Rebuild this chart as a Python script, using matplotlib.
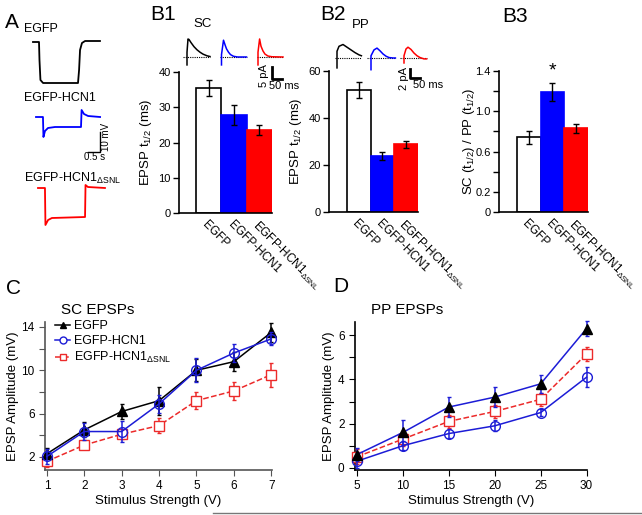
import matplotlib
matplotlib.use("Agg")
import matplotlib.pyplot as plt
import numpy as np
from matplotlib.lines import Line2D

plt.rcParams['font.family'] = ['Liberation Sans', 'DejaVu Sans']
plt.rcParams['mathtext.fontset'] = 'custom'
plt.rcParams['mathtext.rm'] = 'Liberation Sans'
plt.rcParams['mathtext.it'] = 'Liberation Sans:italic'
plt.rcParams['mathtext.bf'] = 'Liberation Sans:bold'

# ---------------- data ----------------
groups = ["EGFP", "EGFP-HCN1", "EGFP-HCN1$_{\\mathrm{ΔSNL}}$"]

sc_half = [35.5, 27.8, 23.5]
sc_half_err = [2.3, 2.7, 1.4]
pp_half = [51.9, 23.8, 28.9]
pp_half_err = [3.3, 1.8, 1.5]
ratio = [0.74, 1.19, 0.83]
ratio_err = [0.06, 0.09, 0.045]

sc_stim = [1, 2, 3, 4, 5, 6, 7]
sc_egfp = [2.3, 4.5, 6.2, 7.2, 10.0, 10.8, 13.5]
sc_egfp_err = [0.5, 0.7, 0.7, 1.3, 1.0, 0.9, 0.9]
sc_hcn1 = [2.05, 4.35, 4.35, 6.9, 10.0, 11.6, 12.9]
sc_hcn1_err = [0.7, 0.8, 1.0, 0.8, 1.1, 0.8, 0.6]
sc_dsnl = [1.6, 3.1, 4.1, 4.9, 7.2, 8.1, 9.6]
sc_dsnl_err = [0.5, 0.4, 0.4, 0.7, 0.8, 0.8, 1.1]

pp_stim = [5, 10, 15, 20, 25, 30]
pp_egfp = [0.6, 1.6, 2.75, 3.2, 3.8, 6.3]
pp_egfp_err = [0.3, 0.55, 0.45, 0.45, 0.4, 0.35]
pp_hcn1 = [0.3, 1.0, 1.55, 1.9, 2.5, 4.1]
pp_hcn1_err = [0.3, 0.2, 0.2, 0.25, 0.15, 0.45]
pp_dsnl = [0.5, 1.3, 2.1, 2.55, 3.1, 5.15]
pp_dsnl_err = [0.35, 0.3, 0.3, 0.3, 0.3, 0.3]

# panel A voltage traces (s, mV)
a_t_egfp = [0, 0.25, 0.27, 0.31, 0.42, 1.875, 1.92, 1.96, 2.04, 2.17, 2.79]
a_v_egfp = [0, 0, -9, -19, -20.5, -20.5, -14, -4, -0.5, 0.5, 0.5]
a_t_hcn1 = [0, 0.29, 0.31, 0.375, 0.5, 0.79, 1.875, 1.9, 2.0, 2.17, 2.67]
a_v_hcn1 = [0, 0, -10, -7, -5.5, -5, -5, 3.5, 1.5, 0.5, 0]
a_t_dsnl = [0, 0.29, 0.31, 0.42, 0.58, 1.96, 1.98, 2.08, 2.79]
a_v_dsnl = [0, 0, -18.5, -16, -15, -14.5, 1.5, 0.5, 0]

# B1 SC EPSC traces (ms, pA)
sc_t_egfp = [0, 0, 5, 10, 20, 35, 50, 65, 80, 100, 115]
sc_v_egfp = [-3.3, 2, 7.5, 7.3, 6.0, 4.3, 3.0, 2.0, 1.2, 0.5, 0.2]
sc_t_hcn1 = [0, 0, 10, 18, 25, 35, 45, 60, 80, 125]
sc_v_hcn1 = [-3.3, 1, 7.0, 5.0, 3.4, 2.0, 1.0, 0.3, 0.0, 0.0]
sc_t_dsnl = [0, 0, 8, 15, 25, 35, 50, 70, 125]
sc_v_dsnl = [-3.3, 2, 7.5, 4.5, 2.5, 1.2, 0.4, 0.1, 0.0]

# B2 PP EPSC traces (ms, pA)
pp_t_egfp = [0, 0, 10, 30, 50, 70, 90, 110, 122]
pp_v_egfp = [-2.2, 1.5, 2.6, 3.0, 2.4, 1.8, 1.2, 0.7, 0.5]
pp_t_hcn1 = [0, 0, 15, 30, 45, 60, 75, 90, 110, 122]
pp_v_hcn1 = [-2.6, 0.5, 1.8, 2.2, 1.6, 0.9, 0.4, 0.1, 0.0, 0.0]
pp_t_dsnl = [0, 0, 10, 20, 35, 50, 65, 80, 100, 113]
pp_v_dsnl = [-1.1, 0.5, 2.0, 2.4, 1.9, 1.1, 0.5, 0.1, -0.2, -0.2]

BLUE = "#0000ff"
RED = "#ff0000"
LBLUE = "#1c1cd6"
LRED = "#ec2a2a"

W, H = 642, 515
fig = plt.figure(figsize=(W / 100, H / 100), dpi=100)


def box(l, t, r, b):
    return [l / W, 1 - b / H, (r - l) / W, (b - t) / H]


def ftext(px, py, s, **kw):
    return fig.text(px / W, 1 - py / H, s, **kw)


def px_axes(l, t, r, b, sx, sy):
    ax = fig.add_axes(box(l, t, r, b), zorder=5)
    ax.set_xlim(0, (r - l) / sx)
    ax.set_ylim(0, (b - t) / sy)
    ax.axis("off")
    ax.patch.set_visible(False)

    def to_data(px, py):
        return (px - l) / sx, (b - py) / sy
    return ax, to_data


# ---------------- panel A ----------------
axA, toA = px_axes(0, 0, 150, 260, 24, 2)
for (px, py), t, v, c in [((33, 42), a_t_egfp, a_v_egfp, "black"),
                          ((36, 117), a_t_hcn1, a_v_hcn1, BLUE),
                          ((38, 188), a_t_dsnl, a_v_dsnl, RED)]:
    x0, y0 = toA(px, py)
    axA.plot(x0 + np.array(t), y0 + np.array(v), color=c, lw=1.3)
x0, y0 = toA(100, 152)
axA.plot([x0 - 0.5, x0, x0], [y0, y0, y0 + 10], color="black", lw=1)
ftext(95, 157, "0.5 s", fontsize=7, ha="center", va="center")
ftext(106, 137, "10 mV", fontsize=7, ha="center", va="center", rotation=90)
ftext(24, 29, "EGFP", fontsize=9, va="center")
ftext(24, 98, "EGFP-HCN1", fontsize=9, va="center")
ftext(24, 178, "EGFP-HCN1$_{\\mathrm{ΔSNL}}$", fontsize=9, va="center")

# ---------------- EPSC traces ----------------
def draw_epscs(ax, todata, items, bar_px, bar_pa, bar_ms):
    for (px, py), t, v, c, (b0, b1) in items:
        x0, y0 = todata(px, py)
        ax.plot([x0 + b0, x0 + b1], [y0, y0], color="black", lw=0.8, ls=(0, (1, 1)))
        ax.plot(x0 + np.array(t), y0 + np.array(v), color=c, lw=1.1)
    x0, y0 = todata(*bar_px)
    ax.plot([x0, x0, x0 + bar_ms], [y0 + bar_pa, y0, y0], color="black", lw=2)


axT1, toT1 = px_axes(175, 25, 300, 95, 0.2, 2.4)
draw_epscs(axT1, toT1,
           [((187, 57), sc_t_egfp, sc_v_egfp, "black", (-20, 115)),
            ((221.5, 57), sc_t_hcn1, sc_v_hcn1, BLUE, (-8, 127)),
            ((258, 57), sc_t_dsnl, sc_v_dsnl, RED, (-5, 125))],
           (272, 79), 5, 50)
ftext(264, 76, "5 pA", fontsize=8, ha="center", va="center", rotation=90)
ftext(284, 86, "50 ms", fontsize=8, ha="center", va="center")

axT2, toT2 = px_axes(330, 30, 450, 95, 0.2, 4.5)
draw_epscs(axT2, toT2,
           [((337, 58), pp_t_egfp, pp_v_egfp, "black", (-12, 122)),
            ((371, 58), pp_t_hcn1, pp_v_hcn1, BLUE, (-20, 122)),
            ((404, 58), pp_t_dsnl, pp_v_dsnl, RED, (-20, 113))],
           (410, 78), 2, 50)
ftext(404, 78, "2 pA", fontsize=8, ha="center", va="center", rotation=90)
ftext(428, 85, "50 ms", fontsize=8, ha="center", va="center")

# ---------------- bar panels ----------------
def bar_panel(rect, xlim, vals, errs, ylim, yticks, ylabels, ylabel, lpad):
    ax = fig.add_axes(box(*rect))
    ax.patch.set_visible(False)
    x = np.arange(3)
    ax.bar(x, vals, width=1.0, color=["white", BLUE, RED],
           edgecolor=["black", BLUE, RED], linewidth=1.2, zorder=2)
    ax.errorbar(x, vals, yerr=errs, fmt="none", ecolor="black",
                elinewidth=1, capsize=2, zorder=3)
    ax.set_xlim(*xlim)
    ax.set_ylim(*ylim)
    ax.set_yticks(yticks)
    ax.set_yticklabels(ylabels)
    ax.set_xticks(x)
    ax.set_xticklabels(groups, rotation=-45, ha="left", va="top",
                       rotation_mode="anchor", fontsize=8.5)
    ax.tick_params(axis="x", length=0, pad=4)
    ax.tick_params(axis="y", direction="out", length=4, labelsize=8, width=1, pad=2)
    for s in ["top", "right"]:
        ax.spines[s].set_visible(False)
    for s in ["left", "bottom"]:
        ax.spines[s].set_linewidth(1.2)
    ax.set_ylabel(ylabel, fontsize=9.5, labelpad=lpad)
    return ax


axB1 = bar_panel((179, 72, 272, 213), (-1.18, 2.5), sc_half, sc_half_err,
                 (0, 40), [0, 10, 20, 30, 40], ["0", "10", "20", "30", "40"],
                 "EPSP t$_{1/2}$ (ms)", 3)
axB2 = bar_panel((329, 71, 418, 212), (-1.25, 2.5), pp_half, pp_half_err,
                 (0, 60), [0, 20, 40, 60], ["0", "20", "40", "60"],
                 "EPSP t$_{1/2}$ (ms)", 3)
axB3 = bar_panel((499, 71, 588, 212), (-1.26, 2.5), ratio, ratio_err,
                 (0, 1.4), [0, 0.2, 0.4, 0.6, 0.8, 1.0, 1.2, 1.4],
                 ["0", "0.2", "", "0.6", "", "1.0", "", "1.4"],
                 "SC (t$_{1/2}$) / PP (t$_{1/2}$)", -1)
axB3.text(1, 1.40, "*", ha="center", va="center", fontsize=14, clip_on=False)

ftext(203, 24, "SC", fontsize=9.5, ha="center", va="center")
ftext(361, 25, "PP", fontsize=9.5, ha="center", va="center")

# ---------------- line panels ----------------
def line_panel(rect, xlim, ylim, xticks, yticks, ylabels, title, spine_color):
    ax = fig.add_axes(box(*rect))
    ax.set_xlim(*xlim)
    ax.set_ylim(*ylim)
    ax.set_xticks(xticks)
    ax.set_yticks(yticks)
    ax.set_yticklabels(ylabels)
    ax.tick_params(direction="out", length=4, labelsize=8.5, colors=spine_color,
                   labelcolor="black")
    for s in ["top", "right"]:
        ax.spines[s].set_visible(False)
    for s in ["left", "bottom"]:
        ax.spines[s].set_color(spine_color)
        ax.spines[s].set_linewidth(1.2)
    ax.set_xlabel("Stimulus Strength (V)", fontsize=9.5, labelpad=2)
    ax.set_ylabel("EPSP Amplitude (mV)", fontsize=9.5, labelpad=2)
    ax.text(0.07, 1.08, title, transform=ax.transAxes, fontsize=11, va="center")
    return ax


axC = line_panel((45, 322, 272, 470), (0.95, 7.02), (0.8, 14.46),
                 sc_stim, [2, 4, 6, 8, 10, 12, 14],
                 ["2", "", "6", "", "10", "", "14"], "SC EPSPs", "#555555")
axC.errorbar(sc_stim, sc_dsnl, yerr=sc_dsnl_err, color=LRED, ls="--", lw=1.1,
             marker="s", ms=7, mfc="white", mec=LRED, capsize=1.5, elinewidth=1.1,
             clip_on=False, zorder=3)
axC.errorbar(sc_stim, sc_egfp, yerr=sc_egfp_err, color="black", lw=1.1,
             marker="^", ms=6.5, capsize=1.5, elinewidth=1.1, clip_on=False, zorder=4)
axC.errorbar(sc_stim, sc_hcn1, yerr=sc_hcn1_err, color=LBLUE, lw=1.1,
             marker="o", ms=7, mfc="none", mec=LBLUE, capsize=1.5, elinewidth=1.1,
             clip_on=False, zorder=5)

handles = [Line2D([], [], color="black", marker="^", ms=5, lw=1.1),
           Line2D([], [], color=LBLUE, marker="o", ms=5, mfc="white", lw=1.1),
           Line2D([], [], color=LRED, marker="s", ms=5, mfc="white", lw=1.1, ls="--")]
fig.legend(handles, groups, loc="upper left", bbox_to_anchor=(55 / W, 1 - 320 / H),
           frameon=False, fontsize=9, handlelength=1.2, handletextpad=0.3,
           labelspacing=0.25, borderpad=0, borderaxespad=0)

axD = line_panel((355, 322, 587, 470), (4.78, 30.05), (-0.1, 6.6),
                 pp_stim, [0, 1, 2, 3, 4, 5, 6],
                 ["0", "", "2", "", "4", "", "6"], "PP EPSPs", "black")
axD.errorbar(pp_stim, pp_dsnl, yerr=pp_dsnl_err, color=LRED, ls="--", lw=1.1,
             marker="s", ms=7, mfc="white", mec=LRED, capsize=1.5, elinewidth=1.1,
             clip_on=False, zorder=3)
axD.errorbar(pp_stim, pp_hcn1, yerr=pp_hcn1_err, color=LBLUE, lw=1.1,
             marker="o", ms=7, mfc="none", mec=LBLUE, capsize=1.5, elinewidth=1.1,
             clip_on=False, zorder=4)
axD.errorbar(pp_stim, pp_egfp, yerr=pp_egfp_err, color=LBLUE, lw=1.1,
             marker="^", ms=6.5, mfc="black", mec="black", capsize=1.5,
             elinewidth=1.1, clip_on=False, zorder=5)

# ---------------- panel letters & misc ----------------
for px, py, s in [(5, 22, "A"), (150, 15, "B1"), (320, 15, "B2"), (502, 17, "B3"),
                  (6, 288, "C"), (333, 286, "D")]:
    ftext(px, py, s, fontsize=15, va="center")

fig.add_artist(Line2D([213 / W, 1], [1 - 513 / H, 1 - 513 / H], color="#777777", lw=1))

fig.savefig("out.png", dpi=100)
